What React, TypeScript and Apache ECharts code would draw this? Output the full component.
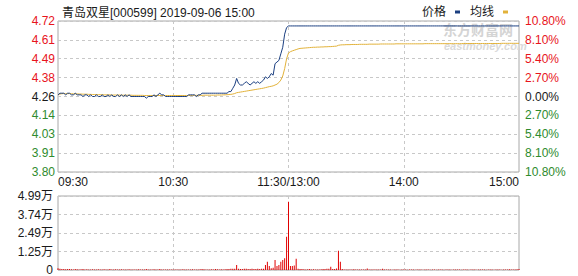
import React, { useEffect, useRef } from 'react';
import * as echarts from 'echarts';

const PREV_CLOSE = 4.26;
const TITLE = '青岛双星[000599] 2019-09-06 15:00';
const timeTickLabels: Record<number, string> = { 0: '09:30', 60: '10:30', 120: '11:30/13:00', 180: '14:00', 240: '15:00' };
const priceTickLabels = ['3.80', '3.91', '4.03', '4.14', '4.26', '4.38', '4.49', '4.61', '4.72'];
const pctTickLabels = ['10.80%', '8.10%', '5.40%', '2.70%', '0.00%', '2.70%', '5.40%', '8.10%', '10.80%'];
const volTickLabels = ['0', '1.25万', '2.49万', '3.74万', '4.99万'];

const priceMorning = [
  4.27, 4.28, 4.28, 4.28, 4.27, 4.28, 4.28, 4.27, 4.27, 4.28, 4.27, 4.27, 4.27, 4.26, 4.27, 4.27, 4.26, 4.27, 4.26, 4.26,
  4.27, 4.26, 4.26, 4.27, 4.26, 4.26, 4.27, 4.26, 4.27, 4.26, 4.26, 4.27, 4.26, 4.27, 4.26, 4.27, 4.26, 4.27, 4.26, 4.26,
  4.26, 4.26, 4.26, 4.26, 4.26, 4.26, 4.25, 4.26, 4.26, 4.26, 4.27, 4.26, 4.27, 4.28, 4.27, 4.27, 4.26, 4.26, 4.26, 4.26,
  4.26, 4.26, 4.26, 4.26, 4.26, 4.26, 4.26, 4.26, 4.27, 4.27, 4.27, 4.27, 4.26, 4.27, 4.27, 4.28, 4.28, 4.28, 4.28, 4.28,
  4.28, 4.28, 4.28, 4.28, 4.28, 4.28, 4.28, 4.28, 4.28, 4.29, 4.29, 4.31, 4.33, 4.37, 4.34, 4.33, 4.33, 4.34, 4.35, 4.34,
  4.33, 4.34, 4.35, 4.34, 4.35, 4.34, 4.35, 4.36, 4.38, 4.37, 4.38, 4.40, 4.39, 4.46, 4.47, 4.48, 4.52, 4.56, 4.64, 4.68,
  4.69,
];
const priceAfternoon = [
  4.69, 4.69, 4.69, 4.69, 4.69, 4.69, 4.69, 4.69, 4.69, 4.69, 4.69, 4.69, 4.69, 4.69, 4.69, 4.69, 4.69, 4.69, 4.69, 4.69,
  4.69, 4.69, 4.69, 4.69, 4.69, 4.69, 4.69, 4.69, 4.69, 4.69, 4.69, 4.69, 4.69, 4.69, 4.69, 4.69, 4.69, 4.69, 4.69, 4.69,
  4.69, 4.69, 4.69, 4.69, 4.69, 4.69, 4.69, 4.69, 4.69, 4.69, 4.69, 4.69, 4.69, 4.69, 4.69, 4.69, 4.69, 4.69, 4.69, 4.69,
  4.69, 4.69, 4.69, 4.69, 4.69, 4.69, 4.69, 4.69, 4.69, 4.69, 4.69, 4.69, 4.69, 4.69, 4.69, 4.69, 4.69, 4.69, 4.69, 4.69,
  4.69, 4.69, 4.69, 4.69, 4.69, 4.69, 4.69, 4.69, 4.69, 4.69, 4.69, 4.69, 4.69, 4.69, 4.69, 4.69, 4.69, 4.69, 4.69, 4.69,
  4.69, 4.69, 4.69, 4.69, 4.69, 4.69, 4.69, 4.69, 4.69, 4.69, 4.69, 4.69, 4.69, 4.69, 4.69, 4.69, 4.69, 4.69, 4.69, 4.69,
];

const avgMorning = [
  4.270, 4.275, 4.277, 4.278, 4.277, 4.277, 4.278, 4.277, 4.276, 4.276, 4.276, 4.275, 4.275, 4.274, 4.274, 4.274, 4.273, 4.273, 4.272, 4.272,
  4.272, 4.271, 4.271, 4.271, 4.270, 4.270, 4.270, 4.270, 4.269, 4.269, 4.269, 4.269, 4.269, 4.268, 4.268, 4.268, 4.268, 4.268, 4.268, 4.267,
  4.267, 4.267, 4.267, 4.267, 4.267, 4.266, 4.266, 4.266, 4.266, 4.266, 4.266, 4.266, 4.266, 4.266, 4.266, 4.266, 4.266, 4.266, 4.266, 4.266,
  4.266, 4.266, 4.266, 4.266, 4.266, 4.266, 4.266, 4.266, 4.266, 4.266, 4.266, 4.267, 4.267, 4.267, 4.267, 4.267, 4.268, 4.268, 4.268, 4.268,
  4.268, 4.268, 4.268, 4.269, 4.269, 4.269, 4.270, 4.270, 4.271, 4.272, 4.273, 4.275, 4.278, 4.283, 4.285, 4.287, 4.289, 4.291, 4.293, 4.295,
  4.297, 4.299, 4.301, 4.303, 4.305, 4.307, 4.309, 4.311, 4.314, 4.317, 4.320, 4.322, 4.325, 4.330, 4.335, 4.345, 4.360, 4.385, 4.430, 4.490,
  4.525,
];
const avgAfternoon = [
  4.533, 4.538, 4.542, 4.546, 4.550, 4.553, 4.554, 4.555, 4.556, 4.557, 4.558, 4.559, 4.560, 4.560, 4.561, 4.561, 4.562, 4.562, 4.563, 4.563,
  4.564, 4.564, 4.565, 4.566, 4.567, 4.572, 4.574, 4.575, 4.575, 4.576, 4.576, 4.576, 4.577, 4.577, 4.577, 4.577, 4.578, 4.578, 4.578, 4.578,
  4.578, 4.579, 4.579, 4.579, 4.579, 4.579, 4.579, 4.580, 4.580, 4.580, 4.580, 4.580, 4.580, 4.580, 4.580, 4.581, 4.581, 4.581, 4.581, 4.581,
  4.581, 4.581, 4.581, 4.581, 4.581, 4.581, 4.581, 4.581, 4.581, 4.581, 4.582, 4.582, 4.582, 4.582, 4.582, 4.582, 4.582, 4.582, 4.582, 4.582,
  4.582, 4.582, 4.582, 4.582, 4.582, 4.582, 4.582, 4.582, 4.582, 4.582, 4.583, 4.583, 4.583, 4.583, 4.583, 4.583, 4.583, 4.583, 4.583, 4.583,
  4.583, 4.583, 4.583, 4.583, 4.583, 4.583, 4.583, 4.583, 4.583, 4.583, 4.584, 4.584, 4.584, 4.584, 4.584, 4.584, 4.584, 4.584, 4.584, 4.584,
];

const volMorning = [
  1100, 800, 600, 700, 500, 600, 700, 500, 400, 600, 500, 400, 500, 600, 400, 500, 300, 400, 500, 400,
  400, 500, 300, 400, 500, 300, 400, 600, 300, 400, 500, 400, 300, 500, 400, 300, 400, 500, 300, 400,
  300, 400, 500, 300, 400, 300, 600, 400, 300, 400, 500, 300, 400, 600, 400, 300, 400, 300, 400, 300,
  400, 300, 400, 300, 400, 500, 300, 400, 300, 400, 500, 400, 300, 400, 500, 600, 500, 400, 300, 400,
  500, 400, 600, 500, 400, 500, 400, 500, 600, 700, 800, 900, 800, 3400, 900, 700, 600, 800, 900, 700,
  600, 800, 700, 600, 900, 700, 800, 900, 3400, 5600, 2700, 1200, 1500, 6700, 2700, 3400, 5600, 6700, 7900, 22500,
  46000,
];
const volAfternoon = [
  2700, 2700, 3000, 7600, 900, 700, 600, 500, 400, 500, 600, 400, 500, 400, 300, 400, 500, 600, 700, 800,
  900, 2200, 700, 600, 1000, 13000, 5600, 600, 400, 300, 400, 300, 400, 500, 300, 400, 300, 400, 300, 400,
  1000, 400, 300, 400, 300, 400, 300, 400, 800, 400, 300, 400, 300, 200, 300, 400, 300, 200, 300, 400,
  300, 200, 300, 400, 300, 200, 300, 400, 300, 200, 300, 400, 300, 200, 300, 300, 200, 300, 400, 300,
  200, 300, 400, 300, 200, 300, 300, 400, 300, 200, 300, 400, 300, 200, 300, 400, 300, 200, 300, 300,
  400, 300, 200, 300, 400, 300, 200, 300, 400, 300, 200, 300, 400, 300, 500, 400, 300, 400, 500, 600,
];

const FONT = '"Liberation Sans", Arial, "Noto Sans CJK SC", sans-serif';
const RED = '#e8141c';
const GREEN = '#2e8b2e';
const DARK = '#1a1a1a';
const BLUE = '#1b3f80';
const GOLD = '#e2b23a';

function pad(n: number) {
  return n < 10 ? '0' + n : '' + n;
}
function buildTimes(): string[] {
  const t: string[] = [];
  for (let m = 9 * 60 + 30; m <= 11 * 60 + 30; m++) t.push(pad(Math.floor(m / 60)) + ':' + pad(m % 60));
  for (let m = 13 * 60 + 1; m <= 15 * 60; m++) t.push(pad(Math.floor(m / 60)) + ':' + pad(m % 60));
  return t;
}
function colorFor(v: any) {
  const n = parseFloat(v);
  if (n > 0.001) return RED;
  if (n < -0.001) return GREEN;
  return DARK;
}

export default function App() {
  const ref = useRef<HTMLDivElement>(null);
  useEffect(() => {
    if (!ref.current) return;
    const chart = echarts.init(ref.current, null, { renderer: 'svg' });
    const times = buildTimes();
    const prices = priceMorning.concat(priceAfternoon);
    const avgs = avgMorning.concat(avgAfternoon);
    const vols = volMorning.concat(volAfternoon);
    const toPct = (p: number) => (p / PREV_CLOSE - 1) * 100;
    const vSplit = {
      show: true,
      interval: (i: number) => i % 60 === 0 && i > 0 && i < 240,
      lineStyle: { color: '#c8c8c8', type: [3, 3], width: 1 },
    };
    const hSplit = { show: true, lineStyle: { color: '#c8c8c8', type: [3, 3], width: 1 } };
    const option: any = {
      animation: false,
      textStyle: { fontFamily: FONT },
      title: {
        text: TITLE,
        left: 57,
        top: 2,
        textStyle: { fontSize: 12, fontWeight: 'normal', color: DARK, fontFamily: FONT },
      },
      legend: {
        right: 65,
        top: 1,
        align: 'right',
        icon: 'rect',
        itemWidth: 5,
        itemHeight: 3,
        itemGap: 10,
        textStyle: { fontSize: 12, color: DARK, fontFamily: FONT, padding: [0, 4, 0, 0] },
        data: ['价格', '均线'],
      },
      grid: [
        { left: 58, top: 21, width: 461, height: 151, show: true, borderColor: '#a8a8a8', borderWidth: 1 },
        { left: 58, top: 196, width: 461, height: 74, show: true, borderColor: '#a8a8a8', borderWidth: 1 },
      ],
      xAxis: [
        {
          type: 'category',
          gridIndex: 0,
          data: times,
          boundaryGap: false,
          axisLine: { show: false },
          axisTick: { show: false },
          axisLabel: {
            interval: (i: number) => i % 60 === 0,
            formatter: (_v: string, i: number) => timeTickLabels[i] ?? '',
            fontSize: 12,
            color: DARK,
            margin: 4,
            showMinLabel: true,
            showMaxLabel: true,
            alignMinLabel: 'left',
            alignMaxLabel: 'right',
            fontFamily: FONT,
          },
          splitLine: vSplit,
        },
        {
          type: 'category',
          gridIndex: 1,
          data: times,
          boundaryGap: false,
          axisLine: { show: false },
          axisTick: { show: false },
          axisLabel: { show: false },
          splitLine: vSplit,
        },
      ],
      yAxis: [
        {
          type: 'value',
          gridIndex: 0,
          min: -10.8,
          max: 10.8,
          interval: 2.7,
          axisLine: { show: false },
          axisTick: { show: false },
          axisLabel: {
            formatter: (_v: number, i: number) => priceTickLabels[i] ?? '',
            color: (v: any) => colorFor(v),
            margin: 3,
            fontSize: 12,
            fontFamily: FONT,
          },
          splitLine: hSplit,
        },
        {
          type: 'value',
          gridIndex: 0,
          position: 'right',
          min: -10.8,
          max: 10.8,
          interval: 2.7,
          axisLine: { show: false },
          axisTick: { show: false },
          axisLabel: {
            formatter: (_v: number, i: number) => pctTickLabels[i] ?? '',
            color: (v: any) => colorFor(v),
            margin: 6,
            fontSize: 12,
            fontFamily: FONT,
          },
          splitLine: { show: false },
        },
        {
          type: 'value',
          gridIndex: 1,
          min: 0,
          max: 49900,
          interval: 12475,
          axisLine: { show: false },
          axisTick: { show: false },
          axisLabel: {
            formatter: (_v: number, i: number) => volTickLabels[i] ?? '',
            color: DARK,
            margin: 5,
            fontSize: 12,
            fontFamily: FONT,
          },
          splitLine: hSplit,
        },
      ],
      graphic: [
        {
          type: 'text',
          x: 443,
          y: 29,
          silent: true,
          style: {
            text: '东方财富网',
            fill: '#d4d4d4',
            font: 'bold 14px "Noto Sans CJK SC"',
            verticalAlign: 'middle',
            align: 'left',
          },
        },
        {
          type: 'text',
          x: 444,
          y: 46,
          silent: true,
          style: {
            text: 'eastmoney.com',
            fill: '#dadada',
            font: 'italic bold 11px "Liberation Sans"',
            verticalAlign: 'middle',
            align: 'left',
          },
        },
      ],
      series: [
        {
          name: '价格',
          type: 'line',
          xAxisIndex: 0,
          yAxisIndex: 0,
          data: prices.map(toPct),
          showSymbol: false,
          symbol: 'none',
          lineStyle: { color: BLUE, width: 1 },
          itemStyle: { color: BLUE },
          z: 3,
        },
        {
          name: '均线',
          type: 'line',
          xAxisIndex: 0,
          yAxisIndex: 0,
          data: avgs.map(toPct),
          showSymbol: false,
          symbol: 'none',
          lineStyle: { color: GOLD, width: 1 },
          itemStyle: { color: GOLD },
          z: 2,
        },
        {
          name: '成交量',
          type: 'bar',
          xAxisIndex: 1,
          yAxisIndex: 2,
          data: vols,
          barWidth: 1,
          itemStyle: { color: '#e00000' },
        },
      ],
    };
    chart.setOption(option);
    return () => chart.dispose();
  }, []);
  return <div ref={ref} style={{ position: 'fixed', left: 0, top: 0, width: 578, height: 276, background: '#fff' }} />;
}
